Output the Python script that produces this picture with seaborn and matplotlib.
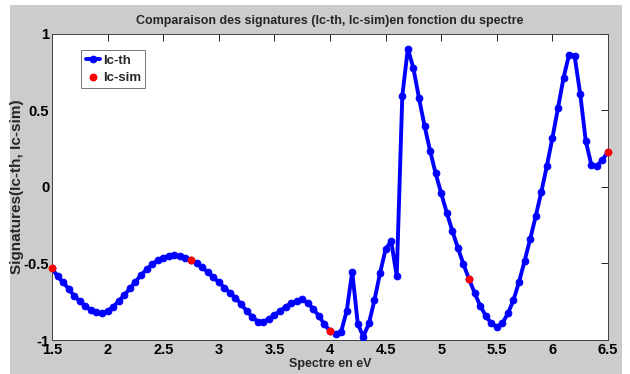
import matplotlib
matplotlib.use("Agg")
import matplotlib.pyplot as plt
import seaborn as sns
import numpy as np
import pandas as pd
from matplotlib.patches import Rectangle

# ---- data ----
spectre_th = [1.50, 1.55, 1.60, 1.65, 1.70, 1.75, 1.80, 1.85, 1.90, 1.95,
              2.00, 2.05, 2.10, 2.15, 2.20, 2.25, 2.30, 2.35, 2.40, 2.45,
              2.50, 2.55, 2.60, 2.65, 2.70, 2.75, 2.80, 2.85, 2.90, 2.95,
              3.00, 3.05, 3.10, 3.15, 3.20, 3.25, 3.30, 3.35, 3.40, 3.45,
              3.50, 3.55, 3.60, 3.65, 3.70, 3.75, 3.80, 3.85, 3.90, 3.95,
              4.00, 4.05, 4.10, 4.15, 4.20, 4.25, 4.30, 4.35, 4.40, 4.45,
              4.50, 4.55, 4.60, 4.65, 4.70, 4.75, 4.80, 4.85, 4.90, 4.95,
              5.00, 5.05, 5.10, 5.15, 5.20, 5.25, 5.30, 5.35, 5.40, 5.45,
              5.50, 5.55, 5.60, 5.65, 5.70, 5.75, 5.80, 5.85, 5.90, 5.95,
              6.00, 6.05, 6.10, 6.15, 6.20, 6.25, 6.30, 6.35, 6.40, 6.45,
              6.50]
ic_th = [-0.532, -0.583, -0.624, -0.665, -0.713, -0.746, -0.778, -0.804, -0.820, -0.826,
         -0.811, -0.783, -0.746, -0.707, -0.663, -0.620, -0.576, -0.539, -0.506, -0.478,
         -0.461, -0.450, -0.446, -0.452, -0.461, -0.474, -0.500, -0.526, -0.555, -0.590,
         -0.622, -0.658, -0.692, -0.725, -0.765, -0.810, -0.848, -0.880, -0.880, -0.863,
         -0.837, -0.810, -0.783, -0.761, -0.746, -0.735, -0.757, -0.798, -0.843, -0.898,
         -0.941, -0.961, -0.946, -0.811, -0.554, -0.896, -0.978, -0.891, -0.739, -0.563,
         -0.407, -0.353, -0.582, 0.594, 0.905, 0.776, 0.582, 0.400, 0.237, 0.089,
         -0.041, -0.168, -0.287, -0.398, -0.504, -0.602, -0.691, -0.776, -0.841, -0.891,
         -0.913, -0.891, -0.826, -0.739, -0.620, -0.483, -0.341, -0.191, -0.033, 0.137,
         0.320, 0.515, 0.713, 0.866, 0.853, 0.609, 0.300, 0.146, 0.137, 0.179,
         0.228]
spectre_sim = [1.50, 2.75, 4.00, 5.25, 6.50]
ic_sim = [-0.532, -0.474, -0.941, -0.602, 0.228]

x_ticks = [1.5, 2, 2.5, 3, 3.5, 4, 4.5, 5, 5.5, 6, 6.5]
x_tick_labels = ["1.5", "2", "2.5", "3", "3.5", "4", "4.5", "5", "5.5", "6", "6.5"]
y_ticks = [-1, -0.5, 0, 0.5, 1]
y_tick_labels = ["-1", "-0.5", "0", "0.5", "1"]

title = "Comparaison des signatures (Ic-th, Ic-sim)en fonction du spectre"
xlabel = "Spectre en eV"
ylabel = "Signatures(Ic-th, Ic-sim)"

# ---- style ----
sns.set_style("white")
fonts = ["Liberation Sans Narrow", "Liberation Sans", "DejaVu Sans"]
plt.rcParams["font.family"] = fonts
plt.rcParams["font.weight"] = "bold"

W, H = 630, 374
fig = plt.figure(figsize=(W / 100, H / 100), dpi=100, facecolor="white")
# MATLAB-like grey figure panel
fig.patches.append(Rectangle((10 / W, 0), 612 / W, 1 - 5 / H, transform=fig.transFigure,
                             facecolor="#cccccc", edgecolor="none", zorder=-10))

ax = fig.add_axes([52 / W, 1 - 340 / H, 556 / W, 306 / H])
ax.set_facecolor("white")

df_th = pd.DataFrame({"x": spectre_th, "y": ic_th})
df_sim = pd.DataFrame({"x": spectre_sim, "y": ic_sim})

sns.lineplot(data=df_th, x="x", y="y", ax=ax, color="#0000ff", linewidth=2.8,
             marker="o", markersize=4.8, markeredgecolor="#0000ff", label="Ic-th",
             estimator=None, sort=False, zorder=3)
sns.scatterplot(data=df_sim, x="x", y="y", ax=ax, color="#ff0000", s=32,
                edgecolor="#ff0000", linewidth=0, label="Ic-sim", zorder=4, clip_on=False)

ax.set_xlim(1.5, 6.5)
ax.set_ylim(-1, 1)
ax.set_xticks(x_ticks)
ax.set_xticklabels(x_tick_labels)
ax.set_yticks(y_ticks)
ax.set_yticklabels(y_tick_labels)
ax.tick_params(direction="in", length=5, width=0.6, top=True, right=True,
               labelsize=10.5, colors="black", pad=2, labelcolor="black")
for lab in ax.get_xticklabels() + ax.get_yticklabels():
    lab.set_fontweight("bold")
for s in ax.spines.values():
    s.set_visible(True)
    s.set_color("#404040")
    s.set_linewidth(0.7)

ax.set_title(title, fontsize=9, fontweight="bold", pad=7)
ax.set_xlabel(xlabel, fontsize=9, fontweight="bold", labelpad=1)
ax.set_ylabel(ylabel, fontsize=11, fontweight="bold")
ax.yaxis.set_label_coords(-0.051, 0.5)

leg = ax.legend(loc="upper left", bbox_to_anchor=(0.052, 0.948), fontsize=9.5,
                frameon=True, fancybox=False, handlelength=1.1, handletextpad=0.2,
                borderpad=0.35, labelspacing=0.35, borderaxespad=0)
leg.get_frame().set_edgecolor("#555555")
leg.get_frame().set_linewidth(0.7)
for t in leg.get_texts():
    t.set_fontweight("bold")

fig.savefig("out.png", dpi=100, facecolor=fig.get_facecolor())
